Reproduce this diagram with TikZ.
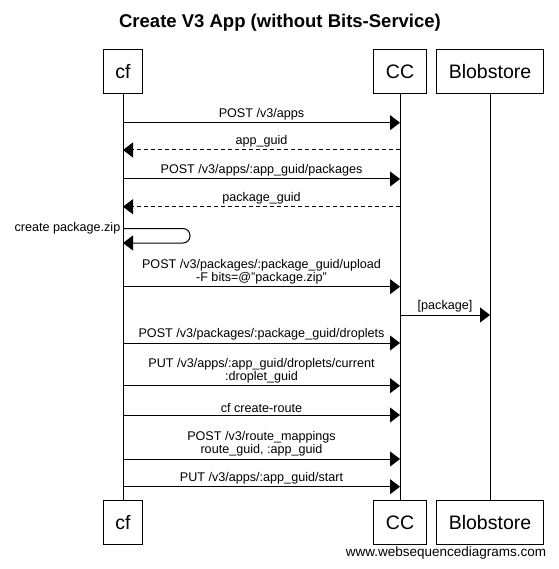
\documentclass[tikz,border=0pt]{standalone}
\usepackage{fontspec}
\setmainfont{Liberation Sans}
\usetikzlibrary{arrows.meta}
\begin{document}
\begin{tikzpicture}[x=1pt,y=-1pt,
  part/.style={draw,line width=1pt,minimum height=44pt,inner xsep=12pt,font=\fontsize{19.5}{20}\selectfont},
  life/.style={line width=1pt},
  msg/.style={line width=1pt,-{Triangle[length=10pt,width=15pt]}},
  ret/.style={msg,dash pattern=on 4pt off 3pt},
  lbl/.style={font=\fontsize{12.6}{13.2}\selectfont,inner sep=0pt,above=2pt,align=center}]
\useasboundingbox (0,0) rectangle (558,569);
\node[font=\bfseries\fontsize{18.5}{20}\selectfont] (title) at (280,22.5) {Create V3 App (without Bits-Service)};
% participants
\node[part] (cfT) at (123,72) {cf};
\node[part] (ccT) at (400,72) {CC};
\node[part] (bsT) at (490,72) {Blobstore};
\node[part] (cfB) at (123,522.5) {cf};
\node[part] (ccB) at (400,522.5) {CC};
\node[part] (bsB) at (490,522.5) {Blobstore};
\draw[life] (cfT.south) -- (cfB.north);
\draw[life] (ccT.south) -- (ccB.north);
\draw[life] (bsT.south) -- (bsB.north);
% messages
\draw[msg] (cfT |- 0,122.7) -- node[lbl] (m1) {POST /v3/apps} (ccT |- 0,122.7);
\draw[ret] (ccT |- 0,150) -- node[lbl] (m2) {app\_guid} (cfT |- 0,150);
\draw[msg] (cfT |- 0,179) -- node[lbl] (m3) {POST /v3/apps/:app\_guid/packages} (ccT |- 0,179);
\draw[ret] (ccT |- 0,206.7) -- node[lbl] (m4) {package\_guid} (cfT |- 0,206.7);
\draw[msg,rounded corners=7pt] (cfT |- 0,228.5) -- ++(67,0) -- ++(0,14.5) -- (cfT |- 0,243);
\node[font=\fontsize{12.6}{13.2}\selectfont,inner sep=0pt,anchor=east] (m5) at (120.5,228.5) {create package.zip};
\draw[msg] (cfT |- 0,286.7) -- node[lbl] (m6) {POST /v3/packages/:package\_guid/upload\\-F bits=@"package.zip"} (ccT |- 0,286.7);
\draw[msg] (ccT |- 0,315) -- node[lbl] (m7) {[package]} (bsT |- 0,315);
\draw[msg] (cfT |- 0,343) -- node[lbl] (m8) {POST /v3/packages/:package\_guid/droplets} (ccT |- 0,343);
\draw[msg] (cfT |- 0,385.7) -- node[lbl] (m9) {PUT /v3/apps/:app\_guid/droplets/current\\:droplet\_guid} (ccT |- 0,385.7);
\draw[msg] (cfT |- 0,415) -- node[lbl] (m10) {cf create-route} (ccT |- 0,415);
\draw[msg] (cfT |- 0,459) -- node[lbl] (m11) {POST /v3/route\_mappings\\route\_guid, :app\_guid} (ccT |- 0,459);
\draw[msg] (cfT |- 0,486.7) -- node[lbl] (m12) {PUT /v3/apps/:app\_guid/start} (ccT |- 0,486.7);
\node[font=\fontsize{13.5}{14}\selectfont,inner sep=0pt] (wm) at (446,553) {www.websequencediagrams.com};
\end{tikzpicture}
\end{document}
